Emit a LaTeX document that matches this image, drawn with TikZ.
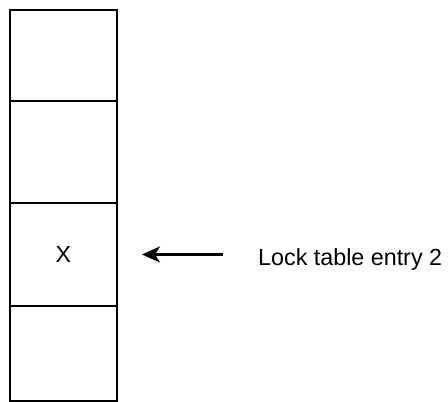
\documentclass[tikz,border=0pt]{standalone}
\usepackage{fontspec}
\setmainfont{Liberation Sans}
\usetikzlibrary{arrows.meta}
\begin{document}
\begin{tikzpicture}[x=1pt,y=1pt,
  cell/.style={draw=black,line width=2pt,inner sep=0pt,outer sep=0pt,minimum width=107pt},
  lbltext/.style={font=\fontsize{23.3}{28}\selectfont,inner sep=0pt},
  ptr/.style={line width=2.4pt,-{Stealth[length=18pt,width=16pt,inset=5pt]}}]
\useasboundingbox (0,0) rectangle (448,402);
\node[cell,minimum height=91pt,anchor=north west] (c1) at (10,392) {};
\node[cell,minimum height=102pt,anchor=north west] (c2) at (c1.south west) {};
\node[cell,minimum height=103pt,anchor=north west] (c3) at (c2.south west) {};
\node[cell,minimum height=95pt,anchor=north west] (c4) at (c3.south west) {};
\node[lbltext] (x) at (c3.center) {X};
\node[lbltext,anchor=base west] (lbl) at (258,136) {Lock table entry 2};
\draw[ptr] ([xshift=-35pt]lbl.west |- c3.center) -- ([xshift=25pt]c3.east);
\end{tikzpicture}
\end{document}
